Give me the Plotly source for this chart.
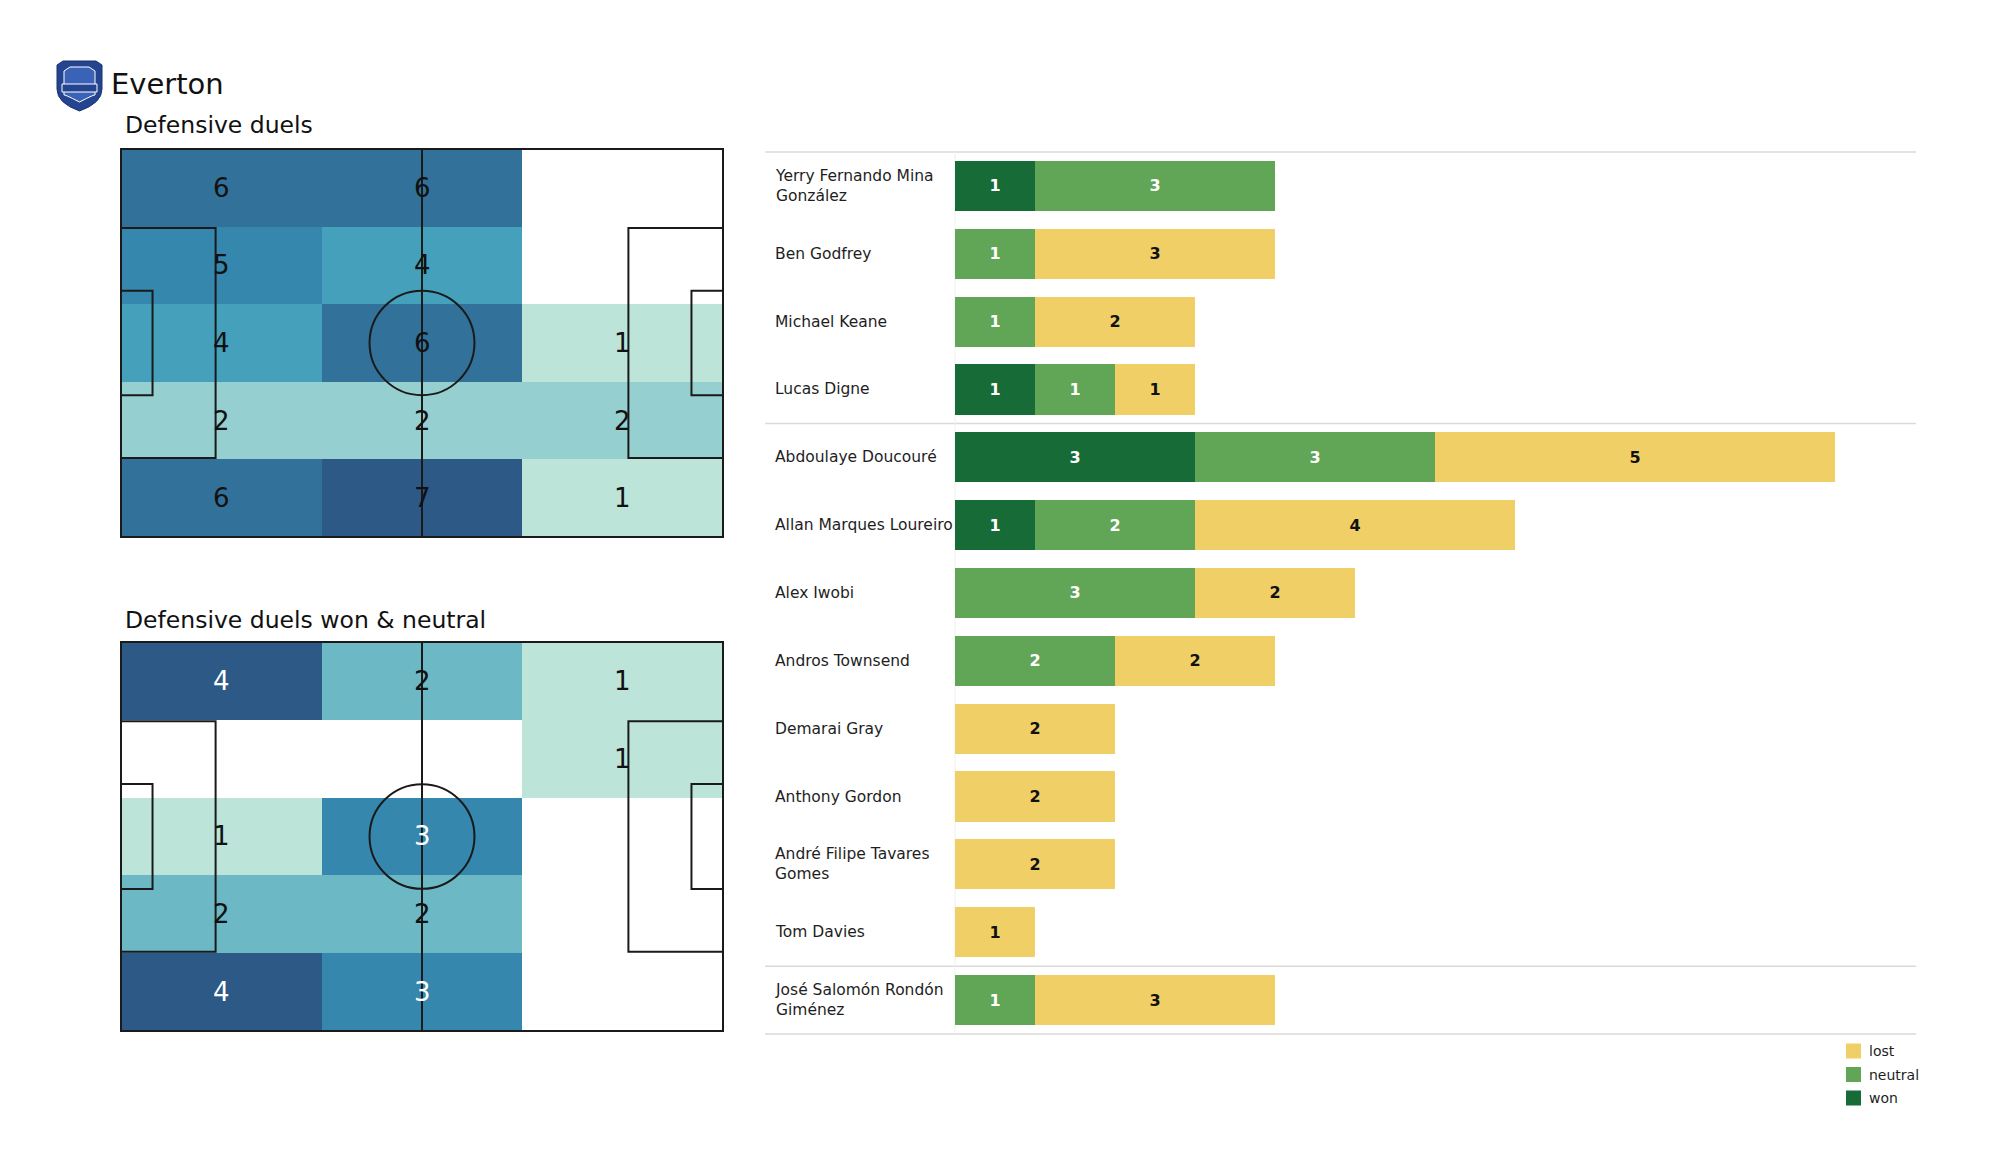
import plotly.graph_objects as go

W, H = 2000, 1175
OFF = 8                      # page body margin of the written html
FIG_W, FIG_H = W - 2 * OFF, H - 2 * OFF

# ---------------- data ----------------
team = "Everton"
title_heat1 = "Defensive duels"
title_heat2 = "Defensive duels won & neutral"

zone_x = [17.5, 52.5, 87.5]               # centres of the 3 pitch columns (105 m pitch)
zone_y = [61.2, 47.6, 34.0, 20.4, 6.8]    # centres of the 5 pitch rows, top to bottom (68 m pitch)

duels = [
    [6, 6, 0],
    [5, 4, 0],
    [4, 6, 1],
    [2, 2, 2],
    [6, 7, 1],
]
duels_won_neutral = [
    [4, 2, 1],
    [0, 0, 1],
    [1, 3, 0],
    [2, 2, 0],
    [4, 3, 0],
]
white_text_heat2 = [3, 4]

players = [
    "Yerry Fernando Mina<br>González",
    "Ben Godfrey",
    "Michael Keane",
    "Lucas Digne",
    "Abdoulaye Doucouré",
    "Allan Marques Loureiro",
    "Alex Iwobi",
    "Andros Townsend",
    "Demarai Gray",
    "Anthony Gordon",
    "André Filipe Tavares<br>Gomes",
    "Tom Davies",
    "José Salomón Rondón<br>Giménez",
]
won     = [1, 0, 0, 1, 3, 1, 0, 0, 0, 0, 0, 0, 0]
neutral = [3, 1, 1, 1, 3, 2, 3, 2, 0, 0, 0, 0, 1]
lost    = [0, 3, 2, 1, 5, 4, 2, 2, 2, 2, 2, 1, 3]
group_breaks = [3.5, 11.5]   # between defenders / midfielders / forwards
legend_names = ["lost", "neutral", "won"]

# ---------------- styles ----------------
FONT = "DejaVu Sans"
C_WON, C_NEUTRAL, C_LOST = "#176b37", "#60a656", "#f1cf67"
series_colors = {"won": C_WON, "neutral": C_NEUTRAL, "lost": C_LOST}
heat_scale = [
    [0.0, "#bce4d9"], [0.1667, "#96cfd0"], [0.3333, "#6db8c5"],
    [0.5, "#45a1bb"], [0.6667, "#3587ae"], [0.8333, "#32729a"], [1.0, "#2c5985"],
]


def px_x(v):
    return (v - OFF) / FIG_W


def px_y(v):
    return 1 - (v - OFF) / FIG_H


fig = go.Figure()
annotations = []

# pitch geometry in pixels
PITCH_L, PITCH_R = 121, 723
UNIT = (PITCH_R - PITCH_L) / 105.0
PAD = 0.5  # metres of padding so outline lines are not clipped


def heat_axes(top, bottom):
    unit_y = (bottom - top) / 68.0
    xa = dict(domain=[px_x(PITCH_L - PAD * UNIT), px_x(PITCH_R + PAD * UNIT)],
              range=[-PAD, 105 + PAD], visible=False, fixedrange=True)
    ya = dict(domain=[px_y(bottom + PAD * unit_y), px_y(top - PAD * unit_y)],
              range=[-PAD, 68 + PAD], visible=False, fixedrange=True)
    return xa, ya


def add_heat(values, xref, yref, white_vals):
    z = [[v if v > 0 else None for v in row] for row in values]
    vmax = max(max(r) for r in values)
    fig.add_trace(go.Heatmap(
        x=zone_x, y=zone_y, z=z, zmin=1, zmax=vmax, colorscale=heat_scale,
        showscale=False, xaxis=xref, yaxis=yref, hoverinfo="skip", xgap=0, ygap=0))
    for r, row in enumerate(values):
        for c, v in enumerate(row):
            if v > 0:
                annotations.append(dict(
                    text=str(v), x=zone_x[c], y=zone_y[r], xref=xref, yref=yref,
                    showarrow=False, xanchor="center", yanchor="middle", yshift=0,
                    font=dict(family=FONT, size=26,
                              color="white" if v in white_vals else "#111111")))


def add_pitch_lines(xr, yr):
    lc = dict(color="#1a1a1a", width=2)
    shapes = [
        dict(type="rect", x0=0, x1=105, y0=0, y1=68),
        dict(type="line", x0=52.5, x1=52.5, y0=0, y1=68),
        dict(type="circle", x0=52.5 - 9.15, x1=52.5 + 9.15, y0=34 - 9.15, y1=34 + 9.15),
        dict(type="rect", x0=0, x1=16.5, y0=34 - 20.16, y1=34 + 20.16),
        dict(type="rect", x0=0, x1=5.5, y0=34 - 9.16, y1=34 + 9.16),
        dict(type="rect", x0=105 - 16.5, x1=105, y0=34 - 20.16, y1=34 + 20.16),
        dict(type="rect", x0=105 - 5.5, x1=105, y0=34 - 9.16, y1=34 + 9.16),
    ]
    for s in shapes:
        fig.add_shape(**s, xref=xr, yref=yr, line=lc, layer="above")


xa1, ya1 = heat_axes(149, 537)
xa2, ya2 = heat_axes(642, 1031)
add_heat(duels, "x", "y", [])
add_heat(duels_won_neutral, "x2", "y2", white_text_heat2)
add_pitch_lines("x", "y")
add_pitch_lines("x2", "y2")

# ---------------- stacked bars ----------------
for vals, name, tcol in [
    (won, "won", "white"),
    (neutral, "neutral", "white"),
    (lost, "lost", "#111111"),
]:
    fig.add_trace(go.Bar(
        y=players, x=vals, orientation="h", name=name,
        marker=dict(color=series_colors[name], line=dict(width=0)),
        text=[f"<b>{v}</b>" if v else "" for v in vals], textposition="inside",
        insidetextanchor="middle", textangle=0, constraintext="none",
        textfont=dict(family=FONT, size=16, color=tcol),
        width=0.74, xaxis="x3", yaxis="y3", hoverinfo="skip", showlegend=False))

BAR_L, BAR_R = 955, 1916
BAR_UNIT = 80.0
ROW_TOP, ROW_BOT = 152, 1034
ROW_PX = (ROW_BOT - ROW_TOP) / len(players)
xa3 = dict(domain=[px_x(BAR_L - 0.05 * BAR_UNIT), px_x(BAR_R)],
           range=[-0.05, (BAR_R - BAR_L) / BAR_UNIT], visible=False, fixedrange=True)
ya3 = dict(domain=[px_y(ROW_BOT + 0.06 * ROW_PX), px_y(ROW_TOP - 0.06 * ROW_PX)],
           range=[len(players) - 0.5 + 0.06, -0.5 - 0.06], type="category",
           categoryorder="array", categoryarray=players, visible=False, fixedrange=True)

for yb in [-0.5] + group_breaks + [len(players) - 0.5]:
    fig.add_shape(type="line", xref="paper", yref="y3", x0=px_x(765), x1=px_x(1916), y0=yb, y1=yb,
                  line=dict(color="#dadada", width=1.5), layer="below")
fig.add_shape(type="line", xref="x3", yref="y3", x0=0, x1=0, y0=-0.5, y1=len(players) - 0.5,
              line=dict(color="#f0f0f0", width=1), layer="below")

for p in players:
    annotations.append(dict(
        text=p, x=px_x(773), xref="paper", y=p, yref="y3", xanchor="left", yanchor="middle",
        align="left", showarrow=False, font=dict(family=FONT, size=15.5, color="#1e1e1e")))

annotations += [
    dict(text=team, x=px_x(109), y=px_y(84), xref="paper", yref="paper", xanchor="left",
         yanchor="middle", showarrow=False, font=dict(family=FONT, size=29, color="#111111")),
    dict(text=title_heat1, x=px_x(123), y=px_y(125), xref="paper", yref="paper", xanchor="left",
         yanchor="middle", showarrow=False, font=dict(family=FONT, size=23.5, color="#111111")),
    dict(text=title_heat2, x=px_x(123), y=px_y(620), xref="paper", yref="paper", xanchor="left",
         yanchor="middle", showarrow=False, font=dict(family=FONT, size=23.5, color="#111111")),
]

# legend (lost / neutral / won), drawn as swatches + labels
LEG_X, LEG_Y0, LEG_DY, SW = 1846, 1051, 23.5, 15
for i, nm in enumerate(legend_names):
    yc = LEG_Y0 + i * LEG_DY
    fig.add_shape(type="rect", xref="paper", yref="paper",
                  x0=px_x(LEG_X), x1=px_x(LEG_X + SW), y0=px_y(yc + SW / 2), y1=px_y(yc - SW / 2),
                  fillcolor=series_colors[nm], line=dict(width=0))
    annotations.append(dict(text=nm, x=px_x(LEG_X + SW + 6), y=px_y(yc), xref="paper", yref="paper",
                            xanchor="left", yanchor="middle", showarrow=False,
                            font=dict(family=FONT, size=14, color="#1e1e1e")))


# simple crest (decorative)
def shield_path(l, r, t, b):
    mid = (l + r) / 2
    return (f"M {px_x(l)},{px_y(t + 4)} L {px_x(l + 6)},{px_y(t)} L {px_x(r - 6)},{px_y(t)} "
            f"L {px_x(r)},{px_y(t + 4)} L {px_x(r)},{px_y(t + 28)} "
            f"Q {px_x(r)},{px_y(b - 8)} {px_x(mid)},{px_y(b)} "
            f"Q {px_x(l)},{px_y(b - 8)} {px_x(l)},{px_y(t + 28)} Z")


fig.add_shape(type="path", xref="paper", yref="paper", path=shield_path(57, 102, 61, 111),
              fillcolor="#24448f", line=dict(color="#1a3270", width=1))
fig.add_shape(type="path", xref="paper", yref="paper", path=shield_path(64, 95, 67, 102),
              fillcolor="#3a63b8", line=dict(color="#ffffff", width=1))
fig.add_shape(type="rect", xref="paper", yref="paper", x0=px_x(62), x1=px_x(97),
              y0=px_y(92), y1=px_y(84), fillcolor="#24448f", line=dict(color="#ffffff", width=1))

fig.update_layout(
    width=FIG_W, height=FIG_H, margin=dict(l=0, r=0, t=0, b=0),
    paper_bgcolor="white", plot_bgcolor="rgba(0,0,0,0)",
    barmode="stack", bargap=0.26,
    xaxis=xa1, yaxis=ya1, xaxis2=xa2, yaxis2=ya2, xaxis3=xa3, yaxis3=ya3,
    annotations=annotations,
    showlegend=False,
    font=dict(family=FONT),
)

fig.write_html("out.html")
